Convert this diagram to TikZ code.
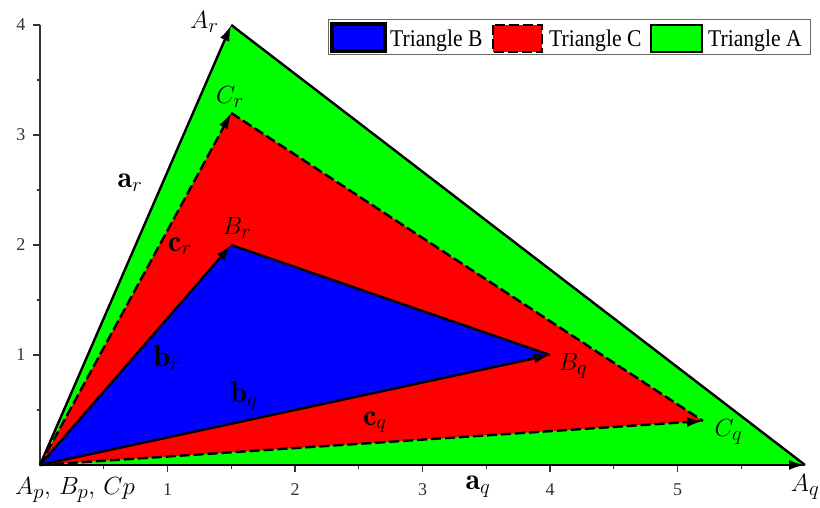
\documentclass[tikz,border=0pt]{standalone}
\usepackage{fontspec}
\usepackage{xcolor}
\usetikzlibrary{arrows,arrows.meta}
\newfontfamily\legendfont[FakeStretch=0.9]{Liberation Serif}
\newfontfamily\tickfont{Liberation Serif}
\definecolor{tblue}{RGB}{0,0,255}
\definecolor{tred}{RGB}{255,0,0}
\definecolor{tgreen}{RGB}{0,255,0}

\begin{document}
\begin{tikzpicture}[x=127.5pt,y=110pt,
  side/.style={line width=2.4pt},
  vec/.style={side,-{Latex[length=16pt,width=10pt]}},
  dashside/.style={dash pattern=on 10pt off 4pt},
  lbl/.style={font=\fontsize{30}{34}\selectfont,inner sep=0pt},
  ticklbl/.style={font=\tickfont\fontsize{18}{20}\selectfont,inner sep=0pt},
  legtext/.style={font=\legendfont\fontsize{24}{28}\selectfont,inner sep=0pt,anchor=base west}]

% vertices
\coordinate (Ap) at (0,0);
\coordinate (Aq) at (6,0);
\coordinate (Ar) at (1.5,4);
\coordinate (Cq) at (5.2,0.4);
\coordinate (Cr) at (1.5,3.2);
\coordinate (Bq) at (4,1);
\coordinate (Br) at (1.5,2);

%axes:
\draw[black!80, line width=1.2pt] (0,4) -- (0,0) -- (6,0);
\foreach \i in {1,...,5}
  \draw[black!80, line width=1.2pt] (\i,0) -- ++(0,-7pt) node[ticklbl] at (\i,0) [yshift=-25pt] {\i};
\foreach \i in {0.5,1.5,...,5.5}
  \draw[black!80, line width=1.2pt] (\i,0) -- ++(0,-4pt);
\foreach \i in {1,...,4}
  \draw[black!80, line width=1.2pt] (0,\i) -- ++(-7pt,0) node[ticklbl] at (0,\i) [xshift=-19pt] {\i};
\foreach \i in {0.5,1.5,...,3.5}
  \draw[black!80, line width=1.2pt] (0,\i) -- ++(-3pt,0);

%triangle A
\fill[tgreen] (Ap) -- (Aq) -- (Ar) -- cycle;
\draw[side] (Ar) -- (Aq);
\draw[vec] (Ap) -- (Aq);
\draw[vec] (Ap) -- (Ar);

%triangle C
\fill[tred] (Ap) -- (Cq) -- (Cr) -- cycle;
\draw[side,dashside] (Cr) -- (Cq);
\draw[vec,dashside] (Ap) -- (Cq);
\draw[vec,dashside] (Ap) -- (Cr);

%triangle B
\fill[tblue] (Ap) -- (Bq) -- (Br) -- cycle;
\draw[side] (Br) -- (Bq);
\draw[vec] (Ap) -- (Bq);
\draw[vec] (Ap) -- (Br);

%labels
\node[lbl] (lAr) at (1.29,4.03) {$A_r$};
\node[lbl] (lCr) at (1.49,3.345) {$C_r$};
\node[lbl] (lBr) at (1.545,2.155) {$B_r$};
\node[lbl] (lBq) at (4.18,0.9) {$B_q$};
\node[lbl] (lCq) at (5.4,0.3) {$C_q$};
\node[lbl] (lAq) at (6.0,-0.2) {$A_q$};
\node[lbl] (lAp) at (0.275,-0.227) {$A_p,\, B_p,\, Cp$};
\node[lbl] (lar) at (0.706,2.564) {$\mathbf{a}_r$};
\node[lbl] (lcr) at (1.098,1.99) {$\mathbf{c}_r$};
\node[lbl] (lbr) at (0.996,0.973) {$\mathbf{b}_r$};
\node[lbl] (lbq) at (1.6,0.627) {$\mathbf{b}_q$};
\node[lbl] (lcq) at (2.627,0.39) {$\mathbf{c}_q$};
\node[lbl] (laq) at (3.435,-0.2) {$\mathbf{a}_q$};

%legend, in pixel units
\begin{scope}[x=1pt,y=-1pt,shift={(-40,-465)}]
\useasboundingbox (0,0) rectangle (820,508);
\draw[black!60, line width=1pt, fill=white] (328,20) rectangle (810,55);
\draw[line width=4pt, fill=tblue] (332,24) rectangle (385,51);
\node[legtext] (legB) at (390,47) {Triangle B};
\draw[line width=2pt, dashside, fill=tred] (493,25) rectangle (542,52);
\node[legtext] (legC) at (549,47) {Triangle C};
\draw[line width=2.5pt, fill=tgreen] (651,25) rectangle (702,52);
\node[legtext] (legA) at (708,47) {Triangle A};
\end{scope}

\end{tikzpicture}
\end{document}
